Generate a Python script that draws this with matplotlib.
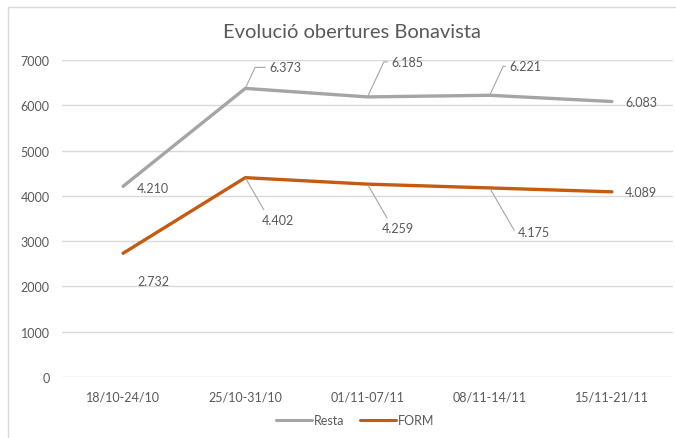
import matplotlib.pyplot as plt
from matplotlib.patches import Rectangle

weeks = ['18/10-24/10', '25/10-31/10', '01/11-07/11', '08/11-14/11', '15/11-21/11']
resta = [4210, 6373, 6185, 6221, 6083]
form = [2732, 4402, 4259, 4175, 4089]

# label offsets (pixels) and whether a leader line is drawn
resta_offsets = [(14, -2), (24, 21), (24, 35), (20, 29), (13, 0)]
resta_leader = [False, True, True, True, False]
form_offsets = [(14, -28), (16, -42), (14, -44), (28, -44), (13, 0)]
form_leader = [False, True, True, True, False]

plt.rcParams['font.family'] = ['Lato', 'DejaVu Sans']
txt = '#595959'
grid = '#d9d9d9'

fig = plt.figure(figsize=(6.76, 4.39), dpi=100)
ax = fig.add_axes([62/676, 1-378/439, (673-62)/676, (378-61)/439])

x = range(len(weeks))
ax.plot(x, resta, color='#a5a5a5', lw=2.4, label='Resta', solid_capstyle='round')
ax.plot(x, form, color='#c55a11', lw=2.4, label='FORM', solid_capstyle='round')

def fmt(v):
    return f'{v/1000:.3f}'

for vals, offs, lead in [(resta, resta_offsets, resta_leader), (form, form_offsets, form_leader)]:
    for i, v in enumerate(vals):
        dx, dy = offs[i]
        if lead[i]:
            ax.annotate(fmt(v), (i, v), xytext=(dx, dy), textcoords='offset pixels',
                        ha='left', va='center', fontsize=9, color=txt,
                        arrowprops=dict(arrowstyle='-', color='#a6a6a6', lw=0.8,
                                        relpos=(0, 0.5), shrinkA=1, shrinkB=1,
                                        connectionstyle='angle,angleA=0,angleB=%d' % (65 if dy > 0 else -60)))
        else:
            ax.annotate(fmt(v), (i, v), xytext=(dx, dy), textcoords='offset pixels',
                        ha='left', va='center', fontsize=9, color=txt)

ax.set_xlim(-0.5, 4.5)
ax.set_ylim(0, 7000)
ax.set_yticks(range(0, 7001, 1000))
ax.set_xticks(list(x), weeks)
ax.grid(axis='y', color=grid, lw=1)
ax.set_axisbelow(True)
for s in ax.spines.values():
    s.set_visible(False)
ax.tick_params(length=0, labelsize=9, colors=txt, pad=10)
ax.tick_params(axis='y', pad=9)

fig.text(352/676, 1-33/439, 'Evolució obertures Bonavista', ha='center', va='center',
         fontsize=14.5, color=txt)

leg = ax.legend(loc='center', bbox_to_anchor=(355/676, 1-421/439), bbox_transform=fig.transFigure,
                ncols=2, frameon=False, fontsize=9, labelcolor=txt, handlelength=2.9,
                columnspacing=1.3, handletextpad=0.1)
for h in leg.legend_handles:
    h.set_linewidth(2.2)

fig.add_artist(Rectangle((8/676, -0.1), 2, 1.1 - 8/439, transform=fig.transFigure,
                         fill=False, edgecolor=grid, lw=1))

plt.savefig('out.png')
